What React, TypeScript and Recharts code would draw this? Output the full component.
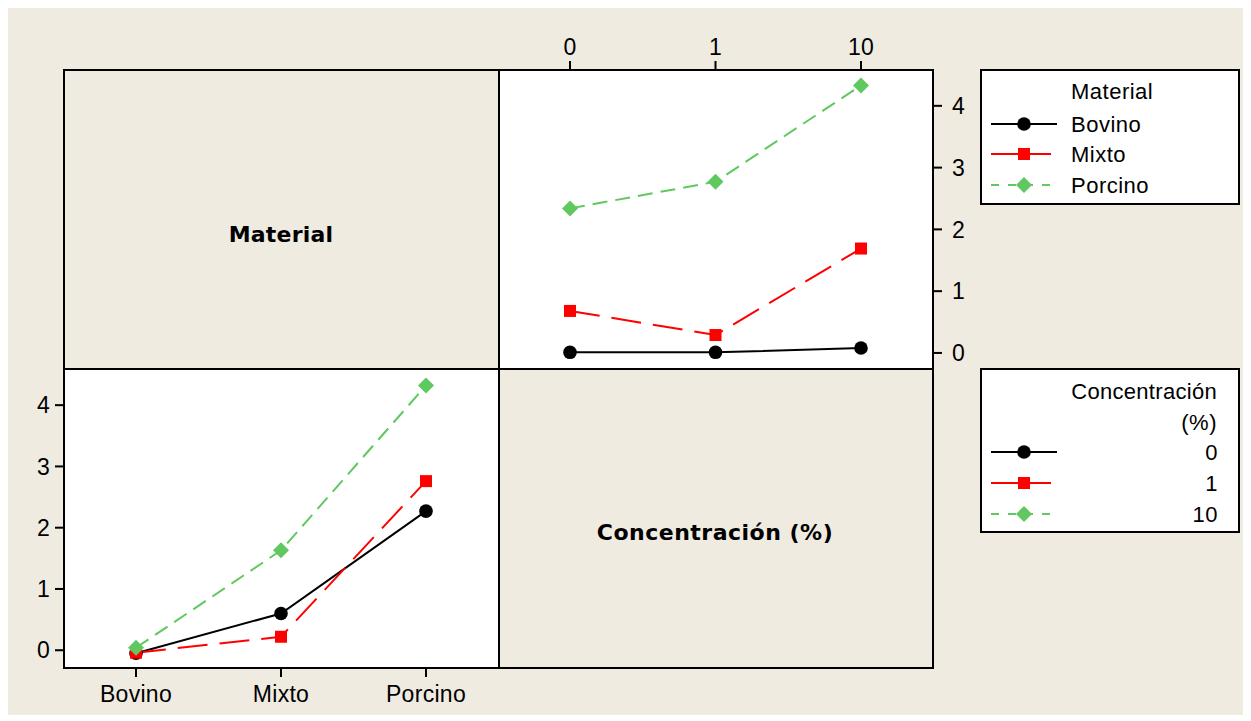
import { LineChart, Line, XAxis, YAxis } from "recharts";

// ---- data ----
const concLabels = ["0", "1", "10"];
const materialLabels = ["Bovino", "Mixto", "Porcino"];
const yTicks = [0, 1, 2, 3, 4];

// top-right panel: one line per Material, x = Concentración
const bovinoByConc = [0.01, 0.01, 0.08];
const mixtoByConc = [0.68, 0.29, 1.69];
const porcinoByConc = [2.34, 2.77, 4.33];

// bottom-left panel: one line per Concentración, x = Material
const conc0ByMat = [-0.05, 0.6, 2.27];
const conc1ByMat = [-0.04, 0.22, 2.76];
const conc10ByMat = [0.04, 1.63, 4.32];

// ---- layout ----
const W = 1237;
const H = 708;
const OX = 7; // beige area starts at page x=7, y=7
const OY = 7;
const L = 64 - OX;
const M = 499 - OX;
const R = 933 - OX;
const T = 70 - OY;
const MY = 369 - OY;
const B = 668 - OY;

const FONT = "'Liberation Sans', Arial, sans-serif";
const BOLD_FONT = "'DejaVu Sans', Verdana, sans-serif";
const BG = "#EFEBE1";

const seriesStyle = [
  { color: "#000000", dash: undefined as string | undefined, shape: "circle" },
  { color: "#FF0000", dash: "30 12", shape: "square" },
  { color: "#60C860", dash: "15 8", shape: "diamond" },
];

const tickStyle = { fill: "#000", fontSize: 23, fontFamily: FONT, letterSpacing: 0.3 };

function Marker({ shape, x, y, color }: { shape: string; x: number; y: number; color: string }) {
  if (shape === "circle") return <circle cx={x} cy={y} r={6.8} fill={color} />;
  if (shape === "square") return <rect x={x - 6} y={y - 6} width={12} height={12} fill={color} />;
  return <polygon points={`${x},${y - 8} ${x + 8},${y} ${x},${y + 8} ${x - 8},${y}`} fill={color} />;
}

const dotFor = (i: number) => (p: any) => (
  <g key={`d-${i}-${p.index}`}>
    <Marker shape={seriesStyle[i].shape} x={p.cx} y={p.cy} color={seriesStyle[i].color} />
  </g>
);

function LegendRow({ i, y, label, right }: { i: number; y: number; label: string; right?: boolean }) {
  const s = seriesStyle[i];
  const x0 = 991 - OX;
  const x1 = (i === 1 ? 1051 : 1057) - OX;
  const mx = 1024 - OX;
  return (
    <g>
      <line x1={x0} y1={y} x2={x1} y2={y} stroke={s.color} strokeWidth={2} strokeDasharray={i === 2 ? "8 9" : undefined} />
      <Marker shape={s.shape} x={mx} y={y} color={s.color} />
      <text
        x={right ? 1218 - OX : 1071 - OX}
        y={y}
        dominantBaseline="central"
        textAnchor={right ? "end" : "start"}
        fontFamily={FONT}
        fontSize={22}
        letterSpacing={0.5}
        fill="#000"
      >
        {label}
      </text>
    </g>
  );
}

export default function App() {
  const topData = concLabels.map((c, i) => ({
    conc: c,
    Bovino: bovinoByConc[i],
    Mixto: mixtoByConc[i],
    Porcino: porcinoByConc[i],
  }));
  const bottomData = materialLabels.map((m, i) => ({
    mat: m,
    c0: conc0ByMat[i],
    c1: conc1ByMat[i],
    c10: conc10ByMat[i],
  }));
  const topKeys = ["Bovino", "Mixto", "Porcino"];
  const bottomKeys = ["c0", "c1", "c10"];

  return (
    <div style={{ position: "relative", left: -1, top: -1, width: W, height: H, background: BG }}>
      <svg width={W} height={H} style={{ position: "absolute", left: 0, top: 0 }}>
        <rect x={M} y={T} width={R - M} height={MY - T} fill="#fff" />
        <rect x={L} y={MY} width={M - L} height={B - MY} fill="#fff" />
        <rect x={L} y={T} width={R - L} height={B - T} fill="none" stroke="#000" strokeWidth={2} />
        <line x1={M} y1={T} x2={M} y2={B} stroke="#000" strokeWidth={2} />
        <line x1={L} y1={MY} x2={R} y2={MY} stroke="#000" strokeWidth={2} />
        <text x={281 - OX} y={234 - OY} textAnchor="middle" dominantBaseline="central" fontFamily={BOLD_FONT} fontWeight="bold" fontSize={22} letterSpacing={0.2} fill="#000">
          Material
        </text>
        <text x={715 - OX} y={532 - OY} textAnchor="middle" dominantBaseline="central" fontFamily={BOLD_FONT} fontWeight="bold" fontSize={22} letterSpacing={0.5} fill="#000">
          Concentración (%)
        </text>

        {/* legend: Material */}
        <rect x={981 - OX} y={70 - OY} width={258} height={134} fill="#fff" stroke="#000" strokeWidth={2} />
        <text x={1071 - OX} y={91 - OY} dominantBaseline="central" fontFamily={FONT} fontSize={22} letterSpacing={0.5} fill="#000">
          Material
        </text>
        {topKeys.map((k, i) => (
          <LegendRow key={k} i={i} y={[124, 154, 185][i] - OY} label={k} />
        ))}

        {/* legend: Concentración */}
        <rect x={981 - OX} y={369 - OY} width={258} height={163} fill="#fff" stroke="#000" strokeWidth={2} />
        <text x={1217 - OX} y={391 - OY} textAnchor="end" dominantBaseline="central" fontFamily={FONT} fontSize={22} letterSpacing={0.3} fill="#000">
          Concentración
        </text>
        <text x={1217 - OX} y={422 - OY} textAnchor="end" dominantBaseline="central" fontFamily={FONT} fontSize={22} letterSpacing={0.5} fill="#000">
          (%)
        </text>
        {concLabels.map((c, i) => (
          <LegendRow key={c} i={i} y={[452, 483, 514][i] - OY} label={c} right />
        ))}
      </svg>

      <div style={{ position: "absolute", left: 0, top: 0 }}>
        <LineChart width={W} height={H} data={topData} margin={{ top: T - 40, left: M, right: W - R - 50, bottom: H - MY }}>
          <XAxis
            dataKey="conc"
            orientation="top"
            height={40}
            padding={{ left: 71, right: 72 }}
            axisLine={false}
            stroke="#000"
            tickLine={{ stroke: "#000", strokeWidth: 2 }}
            tickSize={9}
            tickMargin={6}
            tick={tickStyle}
            interval={0}
          />
          <YAxis
            orientation="right"
            width={50}
            type="number"
            domain={[-0.26, 4.58]}
            allowDataOverflow
            ticks={yTicks}
            axisLine={false}
            stroke="#000"
            tickLine={{ stroke: "#000", strokeWidth: 2 }}
            tickSize={9}
            tickMargin={10}
            tick={tickStyle}
          />
          {topKeys.map((k, i) => (
            <Line
              key={k}
              type="linear"
              dataKey={k}
              stroke={seriesStyle[i].color}
              strokeWidth={2}
              strokeDasharray={seriesStyle[i].dash}
              dot={dotFor(i)}
              activeDot={false}
              isAnimationActive={false}
            />
          ))}
        </LineChart>
      </div>

      <div style={{ position: "absolute", left: 0, top: 0 }}>
        <LineChart width={W} height={H} data={bottomData} margin={{ top: MY, left: L - 55, right: W - M, bottom: H - B - 40 }}>
          <XAxis
            dataKey="mat"
            height={40}
            padding={{ left: 72, right: 73 }}
            axisLine={false}
            stroke="#000"
            tickLine={{ stroke: "#000", strokeWidth: 2 }}
            tickSize={9}
            tickMargin={9}
            tick={tickStyle}
            interval={0}
          />
          <YAxis
            width={55}
            type="number"
            domain={[-0.29, 4.59]}
            allowDataOverflow
            ticks={yTicks}
            axisLine={false}
            stroke="#000"
            tickLine={{ stroke: "#000", strokeWidth: 2 }}
            tickSize={9}
            tickMargin={5}
            tick={tickStyle}
          />
          {bottomKeys.map((k, i) => (
            <Line
              key={k}
              type="linear"
              dataKey={k}
              stroke={seriesStyle[i].color}
              strokeWidth={2}
              strokeDasharray={seriesStyle[i].dash}
              dot={dotFor(i)}
              activeDot={false}
              isAnimationActive={false}
            />
          ))}
        </LineChart>
      </div>
    </div>
  );
}
